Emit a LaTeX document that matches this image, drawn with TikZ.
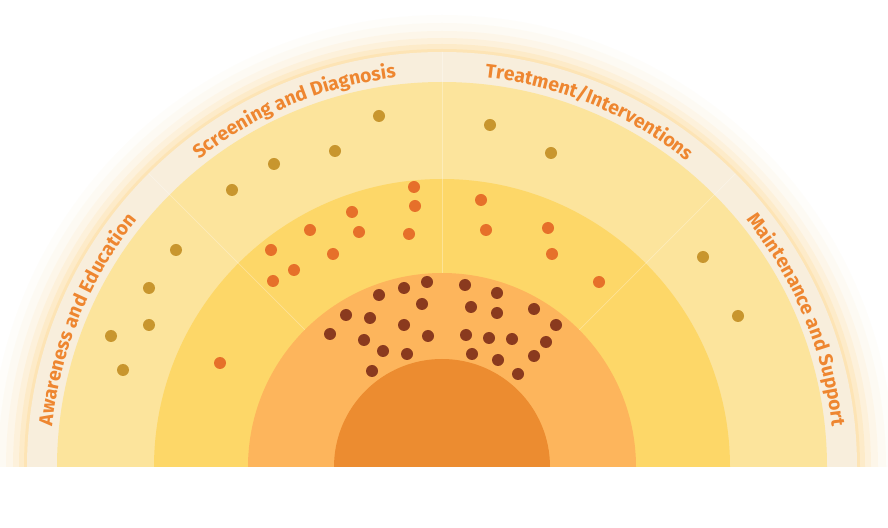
\documentclass[tikz,border=0pt]{standalone}
\usepackage{fontspec}
\setmainfont{Fira Sans}
\usetikzlibrary{decorations.text,calc}
\definecolor{band}{HTML}{F8EEDC}
\definecolor{c1}{HTML}{FCE49C}
\definecolor{c2}{HTML}{FDD768}
\definecolor{c3}{HTML}{FDB55C}
\definecolor{c4}{HTML}{EC8C30}
\definecolor{glow}{HTML}{FDD37A}
\definecolor{lab}{HTML}{EE8630}
\definecolor{dA}{HTML}{C8962E}
\definecolor{dB}{HTML}{E6702A}
\definecolor{dC}{HTML}{8A3A1E}
\tikzset{
 dota/.style={fill=dA},
 dotb/.style={fill=dB},
 dotc/.style={fill=dC},
 divider/.style={draw=white,opacity=0.3,line width=0.6pt},
 lbl/.style={decorate,decoration={text along path,text align=center,
   text={|\bfseries\fontsize{16.5}{17}\selectfont\color{lab}|#1}}}
}
\begin{document}
\begin{tikzpicture}[x=0.03cm,y=0.03cm]
\useasboundingbox (0,0) rectangle (888,528);
\fill[white] (0,0) rectangle (888,528);
\coordinate (C) at (442,61);
\begin{scope}
\clip (0,61) rectangle (888,528);
\foreach \r/\o in {452/0.03,444/0.05,436/0.08,429/0.12,423/0.18,418/0.25}
  \fill[glow,opacity=\o] (C) circle (\r);
\fill[band] (C) circle (415);
\fill[c1] (C) circle (385);
\fill[c2] (C) circle (288);
\fill[c3] (C) circle (194);
\fill[c4] (C) circle (108);
\foreach \a in {45,90,135}
  \draw[divider] ($(C)+(\a:194)$) -- ($(C)+(\a:415)$);
\end{scope}
% labels
\path[lbl={Awareness and Education}] ($(C)+(179:392)$) arc[start angle=179,end angle=136,radius=392];
\path[lbl={Screening and Diagnosis}] ($(C)+(134:392)$) arc[start angle=134,end angle=91,radius=392];
\path[lbl={Treatment/Interventions}] ($(C)+(89:392)$) arc[start angle=89,end angle=46,radius=392];
\path[lbl={Maintenance and Support}] ($(C)+(44:392)$) arc[start angle=44,end angle=1,radius=392];
% dots
\foreach[count=\i] \x/\y in {379/116,274/164,335/151,232/190,176/250,149/288,149/325,111/336,123/370,490/125,551/153,703/257,738/316}
  \fill[dota] (\x,528-\y) circle (6) node (a\i) {};
\foreach[count=\i] \x/\y in {414/187,415/206,352/212,310/230,359/232,409/234,271/250,294/270,333/254,273/281,220/363,481/200,486/230,548/228,552/254,599/282}
  \fill[dotb] (\x,528-\y) circle (6) node (b\i) {};
\foreach[count=\i] \x/\y in {427/282,379/295,404/288,422/304,346/315,370/318,404/325,330/334,364/340,428/336,383/351,407/354,372/371,465/285,497/293,534/309,471/307,497/313,556/325,466/335,489/338,512/339,546/342,472/354,498/360,534/356,518/374}
  \fill[dotc] (\x,528-\y) circle (6) node (c\i) {};
\end{tikzpicture}
\end{document}
